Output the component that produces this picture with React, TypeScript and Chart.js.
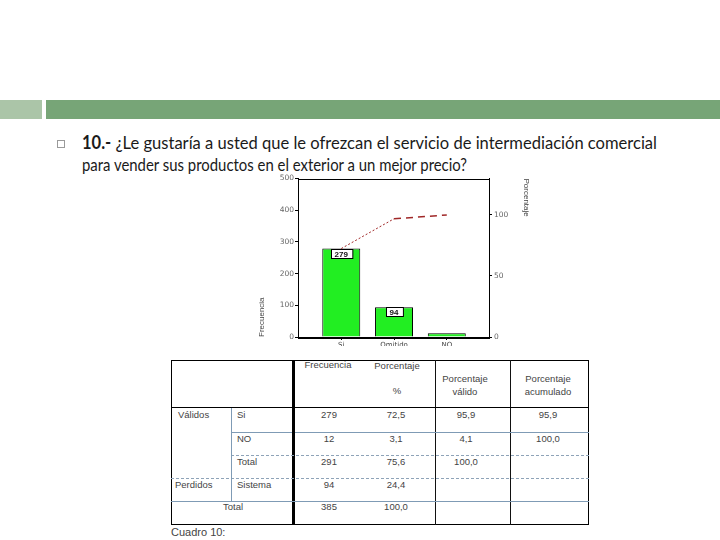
import React, { useEffect, useLayoutEffect, useRef } from "react";
import { Chart, registerables } from "chart.js";

Chart.register(...registerables);

// ---------- chart data ----------
const categories = ["Si", "Omitido", "NO"];
const frequencies = [279, 94, 12];
const cumulative = [279, 373, 385];
const barLabels = ["279", "94", ""];
const leftTicks = [0, 100, 200, 300, 400, 500];
const rightTicks = [0, 50, 100];
const totalN = 385;
const leftMax = 500;

// ---------- table data ----------
const headerCols = [["Frecuencia"], ["Porcentaje", "%"], ["Porcentaje", "válido"], ["Porcentaje", "acumulado"]];
const groupLabels = ["Válidos", "", "", "Perdidos", "Total"];
const rowLabels = ["Si", "NO", "Total", "Sistema", ""];
const freqCol = ["279", "12", "291", "94", "385"];
const pctCol = ["72,5", "3,1", "75,6", "24,4", "100,0"];
const validCol = ["95,9", "4,1", "100,0", "", ""];
const cumCol = ["95,9", "100,0", "", "", ""];

const titleLine1Bold = "10.-";
const titleLine1 = " ¿Le gustaría a usted que le ofrezcan el servicio de intermediación comercial";
const titleLine2 = "para vender sus productos en el exterior a un mejor precio?";
const caption = "Cuadro 10:";

const tickFont = { family: "DejaVu Sans", size: 7.5 };

function FitText(props: { left: number; top: number; width: number; style?: any; children: any }) {
  const ref = useRef<HTMLSpanElement>(null);
  useLayoutEffect(() => {
    const el = ref.current;
    if (!el) return;
    el.style.transform = "none";
    const w = el.getBoundingClientRect().width;
    if (w > 0) el.style.transform = `scaleX(${props.width / w})`;
  });
  return (
    <span
      ref={ref}
      style={{
        position: "absolute",
        left: props.left,
        top: props.top,
        whiteSpace: "nowrap",
        transformOrigin: "0 0",
        ...props.style,
      }}
    >
      {props.children}
    </span>
  );
}

function ParetoChart() {
  const ref = useRef<HTMLCanvasElement>(null);
  useEffect(() => {
    const canvas = ref.current;
    if (!canvas) return;
    const pctMax = (leftMax / totalN) * 100;
    const plugin = {
      id: "frameAndLabels",
      afterDatasetsDraw(chart: any) {
        const ctx = chart.ctx;
        const meta = chart.getDatasetMeta(1);
        ctx.save();
        ctx.font = "bold 8px 'Liberation Sans'";
        meta.data.forEach((el: any, i: number) => {
          const t = barLabels[i];
          if (!t) return;
          const w = ctx.measureText(t).width + 8;
          const h = 9;
          const x = Math.round(el.x - w / 2) + 0.5;
          const y = Math.round(el.y) + 0.5;
          ctx.fillStyle = "#fff";
          ctx.fillRect(x, y, w, h);
          ctx.strokeStyle = "#000";
          ctx.lineWidth = 1;
          ctx.strokeRect(x, y, w, h);
          ctx.fillStyle = "#111";
          ctx.textAlign = "center";
          ctx.textBaseline = "middle";
          ctx.fillText(t, el.x, y + h / 2 + 0.5);
        });
        ctx.restore();
      },
      afterDraw(chart: any) {
        const { left, top, right, bottom } = chart.chartArea;
        const ctx = chart.ctx;
        ctx.save();
        ctx.strokeStyle = "#000";
        ctx.lineWidth = 1;
        ctx.strokeRect(Math.round(left) + 0.5, Math.round(top) + 0.5, Math.round(right - left), Math.round(bottom - top));
        ctx.restore();
      },
    };
    const chart = new Chart(canvas, {
      type: "bar",
      data: {
        datasets: [
          {
            type: "line",
            data: cumulative.map((v, i) => ({ x: i, y: v })),
            borderColor: "#a02828",
            borderWidth: 1,
            pointRadius: 0,
            tension: 0,
            order: 0,
            segment: {
              borderDash: (c: any) => (c.p0DataIndex === 0 ? [2, 2] : [7, 5]),
              borderWidth: (c: any) => (c.p0DataIndex === 0 ? 1 : 1.5),
            },
          } as any,
          {
            type: "bar",
            data: frequencies.map((v, i) => ({ x: i, y: v })),
            backgroundColor: "#22ee22",
            borderColor: "#000",
            borderWidth: 1,
            categoryPercentage: 0.8,
            barPercentage: 0.9,
            order: 1,
          } as any,
        ],
      },
      options: {
        responsive: false,
        devicePixelRatio: 1,
        animation: false,
        layout: { padding: { top: 5, left: 0, right: 0, bottom: 0 } },
        plugins: { legend: { display: false }, tooltip: { enabled: false } },
        scales: {
          x: {
            type: "linear",
            offset: false,
            min: -0.82,
            max: 2.8,
            afterBuildTicks: (s: any) => {
              s.ticks = categories.map((_, i) => ({ value: i }));
            },
            afterFit: (s: any) => {
              s.height = 9;
            },
            ticks: {
              callback: (v: any) => categories[v as number] ?? "",
              font: { family: "DejaVu Sans", size: 7 },
              color: "#444",
              padding: 1,
              maxRotation: 0,
              autoSkip: false,
            },
            grid: { display: true, offset: false, drawOnChartArea: false, drawTicks: true, tickLength: 3, color: "#000" },
            border: { display: true, color: "#000" },
          },
          y: {
            position: "left",
            min: 0,
            max: leftMax,
            afterBuildTicks: (s: any) => {
              s.ticks = leftTicks.map((v) => ({ value: v }));
            },
            afterFit: (s: any) => {
              s.width = 48;
            },
            ticks: { font: tickFont, color: "#666", padding: 1 },
            grid: { display: true, drawOnChartArea: false, drawTicks: true, tickLength: 3, color: "#000" },
            border: { display: true, color: "#000" },
            title: {
              display: true,
              text: "Frecuencia",
              align: "start",
              font: { family: "Liberation Sans", size: 8 },
              color: "#444",
              padding: { top: 7, bottom: 0 },
            },
          },
          y2: {
            position: "right",
            min: 0,
            max: pctMax,
            afterBuildTicks: (s: any) => {
              s.ticks = rightTicks.map((v) => ({ value: v }));
            },
            afterFit: (s: any) => {
              s.width = 51;
            },
            ticks: { font: tickFont, color: "#666", padding: 2 },
            grid: { display: true, drawOnChartArea: false, drawTicks: true, tickLength: 3, color: "#000" },
            border: { display: true, color: "#000" },
            title: {
              display: true,
              text: "Porcentaje",
              align: "end",
              font: { family: "Liberation Sans", size: 8 },
              color: "#444",
              padding: { top: 9, bottom: 0 },
            },
          },
        },
      } as any,
      plugins: [plugin],
    });
    return () => chart.destroy();
  }, []);
  return (
    <canvas
      ref={ref}
      width={290}
      height={174}
      style={{ position: "absolute", left: 250, top: 172, width: 290, height: 174 }}
    />
  );
}

function HLine(p: { x1: number; x2: number; y: number; color: string; dashed?: boolean; w?: number }) {
  return (
    <div
      style={{
        position: "absolute",
        left: p.x1,
        top: p.y,
        width: p.x2 - p.x1,
        height: 0,
        borderTop: `${p.w ?? 1}px ${p.dashed ? "dashed" : "solid"} ${p.color}`,
      }}
    />
  );
}
function VLine(p: { x: number; y1: number; y2: number; color: string; w?: number }) {
  return (
    <div
      style={{
        position: "absolute",
        left: p.x,
        top: p.y1,
        width: 0,
        height: p.y2 - p.y1,
        borderLeft: `${p.w ?? 1}px solid ${p.color}`,
      }}
    />
  );
}
function Txt(p: { x: number; y: number; align?: "left" | "center"; children: any; size?: number }) {
  const size = p.size ?? 9.5;
  return (
    <div
      style={{
        position: "absolute",
        left: p.align === "center" ? p.x - 60 : p.x,
        top: p.y - size * 0.6,
        width: p.align === "center" ? 120 : undefined,
        textAlign: p.align === "center" ? "center" : "left",
        fontFamily: "'Liberation Sans', Arial, sans-serif",
        fontSize: size,
        lineHeight: `${size * 1.2}px`,
        color: "#444",
        whiteSpace: "nowrap",
      }}
    >
      {p.children}
    </div>
  );
}

function DataTable() {
  const L = 171, R = 589, T = 360, B = 525;
  const rowY = [415, 439, 462, 485, 507];
  const colX = [329, 396, 466, 548];
  const cols = [freqCol, pctCol, validCol, cumCol];
  const blue = "#7f9bb5";
  const dash = "#8ea3b8";
  return (
    <>
      <div style={{ position: "absolute", left: L, top: T, width: R - L, height: B - T, border: "1px solid #000", boxSizing: "border-box" }} />
      <VLine x={292} y1={T} y2={B} color="#000" w={3} />
      <VLine x={435} y1={T} y2={B} color="#111" />
      <VLine x={510} y1={T} y2={B} color="#111" />
      <HLine x1={L} x2={R} y={407} color="#000" />
      <HLine x1={231} x2={292} y={432} color={blue} />
      <HLine x1={295} x2={R} y={432} color={blue} />
      <HLine x1={231} x2={R} y={455} color={dash} dashed />
      <HLine x1={L} x2={R} y={478} color={dash} dashed />
      <HLine x1={L} x2={R} y={501} color={blue} />
      <VLine x={231} y1={408} y2={501} color={blue} />
      <Txt x={328} y={365} align="center">{headerCols[0][0]}</Txt>
      <Txt x={397} y={366} align="center">{headerCols[1][0]}</Txt>
      <Txt x={397} y={391} align="center">{headerCols[1][1]}</Txt>
      <Txt x={465} y={379} align="center">{headerCols[2][0]}</Txt>
      <Txt x={465} y={392} align="center">{headerCols[2][1]}</Txt>
      <Txt x={548} y={379} align="center">{headerCols[3][0]}</Txt>
      <Txt x={548} y={392} align="center">{headerCols[3][1]}</Txt>
      {groupLabels.map((g, i) =>
        g ? (
          i === 4 ? (
            <Txt key={"g" + i} x={233} y={rowY[i]} align="center">{g}</Txt>
          ) : (
            <Txt key={"g" + i} x={i === 0 ? 178 : 175} y={rowY[i]}>{g}</Txt>
          )
        ) : null
      )}
      {rowLabels.map((r, i) => (r ? <Txt key={"r" + i} x={237} y={rowY[i]}>{r}</Txt> : null))}
      {cols.map((col, c) =>
        col.map((v, i) => (v ? <Txt key={c + "-" + i} x={colX[c]} y={rowY[i]} align="center">{v}</Txt> : null))
      )}
      <Txt x={171} y={533} size={11}>{caption}</Txt>
    </>
  );
}

export default function App() {
  useEffect(() => {
    document.body.style.margin = "0";
  }, []);
  return (
    <div style={{ position: "absolute", left: 0, top: 0, width: 720, height: 540, background: "#fff", overflow: "hidden" }}>
      <div style={{ position: "absolute", left: 0, top: 100, width: 42, height: 19, background: "#abc5a8" }} />
      <div style={{ position: "absolute", left: 46, top: 100, width: 674, height: 19, background: "#77a577" }} />
      <div style={{ position: "absolute", left: 57, top: 140, width: 6, height: 6, border: "1px solid #9a9a9a" }} />
      <FitText left={82} top={131} width={575} style={{ fontFamily: "Lato", fontSize: 18, lineHeight: "22px", color: "#1a1a1a" }}>
        <b>{titleLine1Bold}</b>
        {titleLine1}
      </FitText>
      <FitText left={82} top={153} width={385} style={{ fontFamily: "Lato", fontSize: 18, lineHeight: "22px", color: "#1a1a1a" }}>
        {titleLine2}
      </FitText>
      <ParetoChart />
      <DataTable />
    </div>
  );
}
